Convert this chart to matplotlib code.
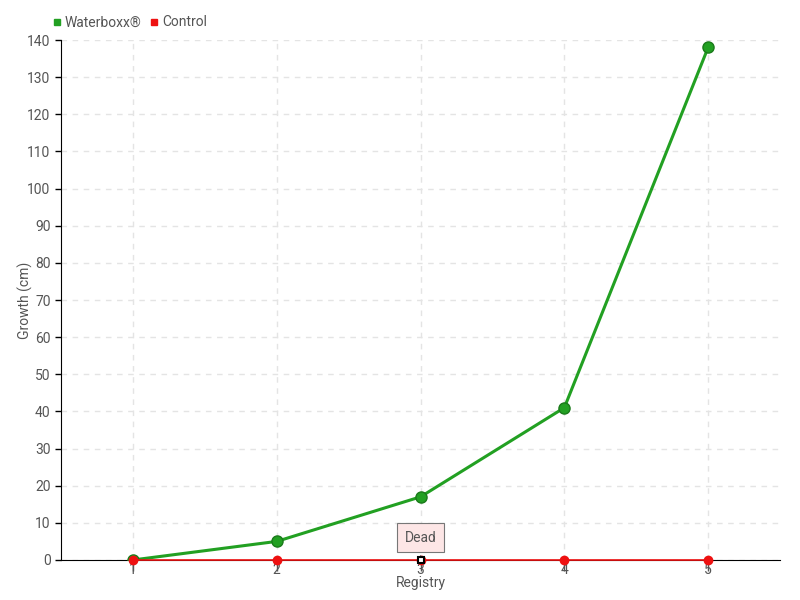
import numpy as np
import matplotlib.pyplot as plt

# datos
registros = [1, 2, 3, 4, 5]
waterboxx = [0, 5, 17, 41, 138]
control = [0, 0, 0, 0, 0]
y_ticks = list(range(0, 141, 10))

plt.rcParams['font.family'] = ['Roboto', 'DejaVu Sans']
gris = '#555555'

fig = plt.figure(figsize=(8, 6), dpi=100)
ax = fig.add_axes([0.07625, 0.0667, 0.8988, 0.8666])

ax.plot(registros, waterboxx, color='#22a022', linewidth=2.2, marker='o',
        markersize=8, markerfacecolor='#22a022', markeredgecolor='#1a7a1a', zorder=3)
ax.plot(registros, control, color='#ee1111', linewidth=1.2, marker='o',
        markersize=6, markerfacecolor='#ee1111', markeredgecolor='#ee1111', zorder=4,
        clip_on=False)
# punto "Dead"
ax.plot(registros[2], control[2], marker='s', markersize=5, markerfacecolor='white',
        markeredgecolor='black', markeredgewidth=1.5, zorder=7, clip_on=False)
ax.annotate('Dead', xy=(registros[2], control[2]), xytext=(0, 16), textcoords='offset points',
            ha='center', va='center', fontsize=10, color=gris,
            bbox=dict(boxstyle='square,pad=0.55', facecolor='#fde6e6', edgecolor='#777777', linewidth=0.8),
            arrowprops=dict(arrowstyle='-', color='#777777', lw=0.8), zorder=6)

ax.set_xlim(0.5, 5.5)
ax.set_ylim(0, 140)
ax.set_xticks(registros)
ax.set_yticks(y_ticks)
ax.tick_params(axis='both', labelsize=10, labelcolor=gris)
ax.tick_params(axis='x', color=gris, length=8, width=1, pad=-6)
ax.tick_params(axis='y', color='black', length=4, width=1)

ax.grid(True, color='#e4e4e4', linestyle=(0, (4, 4)), linewidth=1)
ax.set_axisbelow(True)
for lado in ['top', 'right']:
    ax.spines[lado].set_visible(False)
ax.spines['left'].set_color('black')
ax.spines['bottom'].set_color('black')

ax.set_xlabel('Registry', fontsize=10, color=gris)
ax.xaxis.set_label_coords(0.5, -0.031)
ax.set_ylabel('Growth (cm)', fontsize=10, color=gris)
ax.yaxis.set_label_coords(-0.039, 0.5)

ax.plot([], [], 's', color='#22a022', markersize=5, label='Waterboxx®')
ax.plot([], [], 's', color='#ee1111', markersize=5, label='Control')
handles, labels = ax.get_legend_handles_labels()
fig.legend(handles[-2:], labels[-2:], loc='upper left', bbox_to_anchor=(0.05, 0.995), ncol=2,
           frameon=False, fontsize=10, labelcolor=gris, handlelength=0.6, handletextpad=0.3,
           columnspacing=0.6)

fig.savefig('out.png', dpi=100)
